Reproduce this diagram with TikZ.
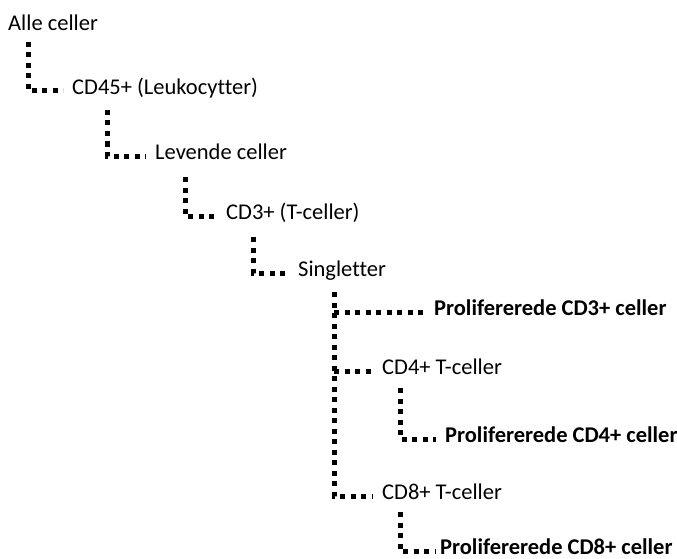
\documentclass[tikz,border=0pt]{standalone}
\usepackage{fontspec}
\setmainfont{Carlito}[Ligatures={NoCommon,NoContextual}]

\begin{document}
\begin{tikzpicture}[
    x=1pt, y=-1pt,
    lbl/.style={anchor=west, inner sep=0pt, text height=14pt, text depth=5pt,
                font=\fontsize{22.5}{26}\selectfont},
    bold/.style={lbl, font=\fontsize{22.5}{26}\selectfont\bfseries},
    gate/.style={line width=5pt, dash pattern=on 5pt off 5.5pt}
  ]
    \useasboundingbox (0,0) rectangle (677,559);

    \node[lbl]  (alle)    at (8,26)    {Alle celler};
    \node[lbl]  (cd45)    at (72,90)   {CD45+ (Leukocytter)};
    \node[lbl]  (levende) at (155,155) {Levende celler};
    \node[lbl]  (cd3)     at (226,215) {CD3+ (T-celler)};
    \node[lbl]  (single)  at (298,272) {Singletter};
    \node[bold] (prolcd3) at (434,311) {Prolifererede CD3+ celler};
    \node[lbl]  (cd4)     at (382,370) {CD4+ T-celler};
    \node[bold] (prolcd4) at (445,438) {Prolifererede CD4+ celler};
    \node[lbl]  (cd8)     at (382,495) {CD8+ T-celler};
    \node[bold] (prolcd8) at (440,550) {Prolifererede CD8+ celler};

    % trunk tops
    \coordinate (t0) at (28,42);
    \coordinate (t1) at (107,110);
    \coordinate (t2) at (185,177);
    \coordinate (t3) at (253,237);
    \coordinate (t4) at (334,292);
    \coordinate (t5) at (400,388);
    \coordinate (t6) at (400,512);

    \draw[gate] (t0) |- ([xshift=-9pt,yshift=-1pt]cd45.west);
    \draw[gate] (t1) |- ([xshift=-9pt,yshift=-1pt]levende.west);
    \draw[gate] (t2) |- ([xshift=-9pt,yshift=-1pt]cd3.west);
    \draw[gate] (t3) |- ([xshift=-9pt,yshift=-1pt]single.west);
    \draw[gate] (t4) |- ([xshift=-9pt,yshift=-1pt]cd8.west);
    \draw[gate] ([yshift=-1pt]t4 |- prolcd3.west) -- ([xshift=-9pt,yshift=-1pt]prolcd3.west);
    \draw[gate] ([yshift=-1pt]t4 |- cd4.west) -- ([xshift=-9pt,yshift=-1pt]cd4.west);
    \draw[gate] (t5) |- ([xshift=-9pt,yshift=-1pt]prolcd4.west);
    \draw[gate] (t6) |- ([xshift=-4pt,yshift=-1pt]prolcd8.west);
\end{tikzpicture}
\end{document}
